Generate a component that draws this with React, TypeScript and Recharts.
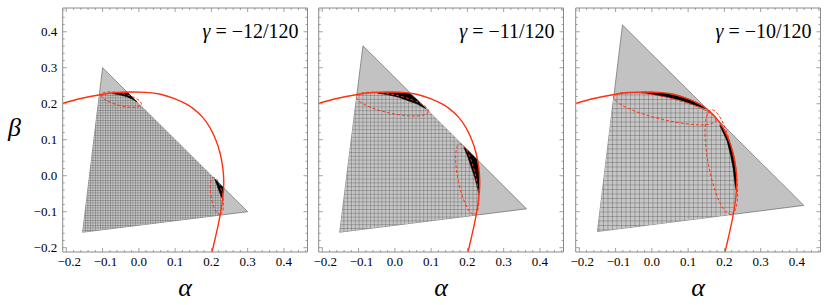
import React from 'react';
import { ComposedChart, Area, Line, XAxis, YAxis } from 'recharts';

const X_DOMAIN: [number, number] = [-0.21, 0.465];
const Y_DOMAIN: [number, number] = [-0.212, 0.466];
const tickValues = [-0.2, -0.18, -0.16, -0.14, -0.12, -0.1, -0.08, -0.06, -0.04, -0.02, 0, 0.02, 0.04, 0.06, 0.08, 0.1, 0.12, 0.14, 0.16, 0.18, 0.2, 0.22, 0.24, 0.26, 0.28, 0.3, 0.32, 0.34, 0.36, 0.38, 0.4, 0.42, 0.44, 0.46];
const majorTicks = [-0.2, -0.1, 0, 0.1, 0.2, 0.3, 0.4];
const majorTickLabels = ['−0.2', '−0.1', '0.0', '0.1', '0.2', '0.3', '0.4'];
const gammaLabels = ['−12/120', '−11/120', '−10/120'];

// solid red boundary curve (same in all panels)
const redCurve = [
  { x: -0.21, y: 0.201 }, { x: -0.16, y: 0.2145 }, { x: -0.107, y: 0.225 }, { x: -0.06, y: 0.231 },
  { x: -0.02, y: 0.2325 }, { x: 0.02, y: 0.2315 }, { x: 0.06, y: 0.2265 }, { x: 0.1, y: 0.2135 },
  { x: 0.13, y: 0.1995 }, { x: 0.15, y: 0.1865 }, { x: 0.175, y: 0.1635 }, { x: 0.196, y: 0.1335 },
  { x: 0.212, y: 0.1 }, { x: 0.224, y: 0.0625 }, { x: 0.231, y: 0.025 }, { x: 0.234, y: -0.01 },
  { x: 0.233, y: -0.045 }, { x: 0.229, y: -0.08 }, { x: 0.224, y: -0.11 }, { x: 0.217, y: -0.145 },
  { x: 0.208, y: -0.185 }, { x: 0.201, y: -0.215 },
];

// triangles  (x, [low, high])
const triangle1 = [{ x: -0.155, r: [-0.157, -0.157] }, { x: -0.1, r: [-0.1501, 0.3] }, { x: 0.3, r: [-0.1, -0.1] }];
const triangle2 = [{ x: -0.152, r: [-0.157, -0.157] }, { x: -0.088, r: [-0.1489, 0.361] }, { x: 0.363, r: [-0.092, -0.092] }];
const triangle3 = [{ x: -0.15, r: [-0.155, -0.155] }, { x: -0.081, r: [-0.1462, 0.419] }, { x: 0.419, r: [-0.0825, -0.0825] }];

// meshed regions
const mesh1 = [
  { x: -0.155, r: [-0.157, -0.157] }, { x: -0.109, r: [-0.1512, 0.224] }, { x: -0.08, r: [-0.1476, 0.2285] },
  { x: -0.05, r: [-0.1438, 0.2315] }, { x: -0.032, r: [-0.1416, 0.232] }, { x: 0.224, r: [-0.1095, -0.024] },
  { x: 0.229, r: [-0.08, -0.029] }, { x: 0.2335, r: [-0.0335, -0.0335] },
];
const mesh2 = [
  { x: -0.152, r: [-0.157, -0.157] }, { x: -0.105, r: [-0.1511, 0.225] }, { x: -0.06, r: [-0.1454, 0.231] },
  { x: -0.02, r: [-0.1403, 0.2325] }, { x: 0.02, r: [-0.1353, 0.2315] }, { x: 0.045, r: [-0.1321, 0.228] },
  { x: 0.224, r: [-0.1095, 0.0476] }, { x: 0.2275, r: [-0.09, 0.044] }, { x: 0.231, r: [-0.062, 0.025] },
  { x: 0.234, r: [-0.01, -0.01] },
];
const mesh3 = [
  { x: -0.15, r: [-0.155, -0.155] }, { x: -0.105, r: [-0.1493, 0.225] }, { x: -0.06, r: [-0.1435, 0.231] },
  { x: -0.02, r: [-0.1384, 0.2325] }, { x: 0.02, r: [-0.1333, 0.2315] }, { x: 0.06, r: [-0.1283, 0.2265] },
  { x: 0.1, r: [-0.1232, 0.2135] }, { x: 0.13, r: [-0.1194, 0.1995] }, { x: 0.15, r: [-0.1168, 0.1865] },
  { x: 0.175, r: [-0.1136, 0.1635] }, { x: 0.196, r: [-0.1109, 0.1335] }, { x: 0.212, r: [-0.1089, 0.1] },
  { x: 0.223, r: [-0.1075, 0.065] }, { x: 0.228, r: [-0.08, 0.042] }, { x: 0.231, r: [-0.062, 0.025] },
  { x: 0.234, r: [-0.01, -0.01] },
];

// black regions
const blackUpper1 = [
  { x: -0.075, r: [0.2285, 0.2285] }, { x: -0.05, r: [0.224, 0.2315] }, { x: -0.032, r: [0.219, 0.232] },
  { x: -0.015, r: [0.211, 0.215] }, { x: -0.005, r: [0.205, 0.205] },
];
const blackLower1 = [
  { x: 0.209, r: [-0.009, -0.009] }, { x: 0.215, r: [-0.025, -0.015] }, { x: 0.222, r: [-0.045, -0.022] },
  { x: 0.228, r: [-0.06, -0.028] }, { x: 0.232, r: [-0.066, -0.032] },
];
const blackUpper2 = [
  { x: -0.047, r: [0.229, 0.229] }, { x: -0.02, r: [0.225, 0.2315] }, { x: 0.01, r: [0.218, 0.232] },
  { x: 0.04, r: [0.207, 0.229] }, { x: 0.06, r: [0.2, 0.2124] }, { x: 0.087, r: [0.1852, 0.1852] },
];
const blackLower2 = [
  { x: 0.19, r: [0.079, 0.079] }, { x: 0.2, r: [0.055, 0.0717] }, { x: 0.21, r: [0.025, 0.0617] },
  { x: 0.22, r: [-0.005, 0.0516] }, { x: 0.2275, r: [-0.033, 0.044] }, { x: 0.232, r: [-0.05, 0.018] },
];
const blackUpper3 = [
  { x: -0.03, r: [0.2315, 0.2315] }, { x: 0.0, r: [0.2265, 0.2322] }, { x: 0.04, r: [0.2195, 0.2285] },
  { x: 0.08, r: [0.2095, 0.2195] }, { x: 0.11, r: [0.1995, 0.2095] }, { x: 0.13, r: [0.1925, 0.1995] },
  { x: 0.15, r: [0.1855, 0.1865] },
];
const blackLower3 = [
  { x: 0.187, r: [0.141, 0.141] }, { x: 0.196, r: [0.1205, 0.1335] }, { x: 0.207, r: [0.097, 0.111] },
  { x: 0.212, r: [0.077, 0.1] }, { x: 0.217, r: [0.057, 0.085] }, { x: 0.224, r: [0.02, 0.0625] },
  { x: 0.228, r: [-0.015, 0.042] }, { x: 0.231, r: [-0.035, 0.025] }, { x: 0.233, r: [-0.042, 0.005] },
];

// dashed ellipses
const ellipseUpper1 = [
  { x: 0.0075, y: 0.198 }, { x: 0.002, y: 0.208 }, { x: -0.017, y: 0.219 }, { x: -0.044, y: 0.228 },
  { x: -0.072, y: 0.2326 }, { x: -0.094, y: 0.2315 }, { x: -0.1035, y: 0.225 }, { x: -0.098, y: 0.215 },
  { x: -0.079, y: 0.204 }, { x: -0.052, y: 0.195 }, { x: -0.024, y: 0.1904 }, { x: -0.002, y: 0.1915 },
  { x: 0.0075, y: 0.198 },
];
const ellipseLower1 = [
  { x: 0.224, y: -0.108 }, { x: 0.2307, y: -0.0997 }, { x: 0.2332, y: -0.0799 }, { x: 0.2308, y: -0.0537 },
  { x: 0.2242, y: -0.0283 }, { x: 0.2151, y: -0.0105 }, { x: 0.206, y: -0.005 }, { x: 0.1993, y: -0.0133 },
  { x: 0.1968, y: -0.0331 }, { x: 0.1992, y: -0.0593 }, { x: 0.2058, y: -0.0847 }, { x: 0.2149, y: -0.1025 },
  { x: 0.224, y: -0.108 },
];
const ellipseUpper2 = [
  { x: 0.094, y: 0.178 }, { x: 0.083, y: 0.1936 }, { x: 0.0486, y: 0.2106 }, { x: -0.0007, y: 0.2245 },
  { x: -0.0514, y: 0.2316 }, { x: -0.09, y: 0.23 }, { x: -0.106, y: 0.22 }, { x: -0.0953, y: 0.2045 },
  { x: -0.0606, y: 0.1874 }, { x: -0.0113, y: 0.1735 }, { x: 0.0394, y: 0.1664 }, { x: 0.078, y: 0.168 },
  { x: 0.094, y: 0.178 },
];
const ellipseLower2 = [
  { x: 0.22, y: -0.1091 }, { x: 0.2293, y: -0.0934 }, { x: 0.2307, y: -0.0554 }, { x: 0.2236, y: -0.0054 },
  { x: 0.2101, y: 0.0434 }, { x: 0.1937, y: 0.0776 }, { x: 0.1788, y: 0.0883 }, { x: 0.1695, y: 0.0726 },
  { x: 0.1681, y: 0.0346 }, { x: 0.1752, y: -0.0155 }, { x: 0.1887, y: -0.0642 }, { x: 0.2051, y: -0.0984 },
  { x: 0.22, y: -0.1091 },
];
const ellipseUpper3 = [
  { x: 0.178, y: 0.153 }, { x: 0.1626, y: 0.1726 }, { x: 0.1135, y: 0.1959 }, { x: 0.0436, y: 0.2167 },
  { x: -0.0281, y: 0.2295 }, { x: -0.0824, y: 0.2306 }, { x: -0.105, y: 0.22 }, { x: -0.0896, y: 0.2004 },
  { x: -0.0405, y: 0.1771 }, { x: 0.0294, y: 0.1563 }, { x: 0.1011, y: 0.1435 }, { x: 0.1554, y: 0.1424 },
  { x: 0.178, y: 0.153 },
];
const ellipseLower3 = [
  { x: 0.219, y: -0.109 }, { x: 0.233, y: -0.0861 }, { x: 0.236, y: -0.0302 }, { x: 0.2269, y: 0.0437 },
  { x: 0.2085, y: 0.1158 }, { x: 0.1854, y: 0.1667 }, { x: 0.164, y: 0.183 }, { x: 0.15, y: 0.1601 },
  { x: 0.147, y: 0.1042 }, { x: 0.1561, y: 0.0303 }, { x: 0.1746, y: -0.0418 }, { x: 0.1976, y: -0.0927 },
  { x: 0.219, y: -0.109 },
];

const panels = [
  { triangle: triangle1, mesh: mesh1, blacks: [blackUpper1, blackLower1], ellipses: [ellipseUpper1, ellipseLower1], meshSize: 2.5 },
  { triangle: triangle2, mesh: mesh2, blacks: [blackUpper2, blackLower2], ellipses: [ellipseUpper2, ellipseLower2], meshSize: 3.8 },
  { triangle: triangle3, mesh: mesh3, blacks: [blackUpper3, blackLower3], ellipses: [ellipseUpper3, ellipseLower3], meshSize: 4.5 },
];

const PANEL_LEFT = [0, 256.3, 513.3];
const CHART_W = 320;
const CHART_H = 305;
const MARGIN = { top: 7, right: 11.5, bottom: 7, left: 22.7 };
const FRAME = '#8a8a8a';
const RED = '#ff3010';
const FONT = 'Liberation Serif, Times New Roman, Times, serif';
const textStyle = (size: number, italic = false): React.CSSProperties => ({
  fontFamily: FONT,
  fontSize: size,
  fontStyle: italic ? 'italic' : 'normal',
});

const majorIndex = (v: number) => majorTicks.findIndex((m) => Math.abs(m - v) < 1e-9);

const bottomTick = (props: any) => {
  const { x, y, payload } = props;
  const i = majorIndex(payload.value);
  const len = i >= 0 ? 4 : 2;
  return (
    <g>
      <line x1={x} x2={x} y1={y} y2={y - len} stroke={FRAME} strokeWidth={0.8} />
      {i >= 0 && (
        <text x={x + (payload.value < 0 ? 3 : 0)} y={y + 14} textAnchor="middle" style={textStyle(13)} fill="#000">
          {majorTickLabels[i]}
        </text>
      )}
    </g>
  );
};
const topTick = (props: any) => {
  const { x, y, payload } = props;
  const len = majorIndex(payload.value) >= 0 ? 4 : 2;
  return <line x1={x} x2={x} y1={y} y2={y + len} stroke={FRAME} strokeWidth={0.8} />;
};
const makeLeftTick = (showLabel: boolean) => (props: any) => {
  const { x, y, payload } = props;
  const i = majorIndex(payload.value);
  const len = i >= 0 ? 4 : 2;
  return (
    <g>
      <line x1={x} x2={x + len} y1={y} y2={y} stroke={FRAME} strokeWidth={0.8} />
      {showLabel && i >= 0 && (
        <text x={x - 5.5} y={y + 4.5} textAnchor="end" style={textStyle(13)} fill="#000">
          {majorTickLabels[i]}
        </text>
      )}
    </g>
  );
};
const rightTick = (props: any) => {
  const { x, y, payload } = props;
  const len = majorIndex(payload.value) >= 0 ? 4 : 2;
  return <line x1={x} x2={x - len} y1={y} y2={y} stroke={FRAME} strokeWidth={0.8} />;
};

function Panel({ index }: { index: number }) {
  const p = panels[index];
  const s = p.meshSize;
  const pid = `mesh${index}`;
  const plotLeft = MARGIN.left + 40;
  const plotW = CHART_W - MARGIN.left - MARGIN.right - 41;
  const plotTop = MARGIN.top + 1;
  return (
    <div style={{ position: 'absolute', left: PANEL_LEFT[index], top: 0 }}>
      <ComposedChart width={CHART_W} height={CHART_H} margin={MARGIN}>
        <defs>
          <pattern id={pid} width={s} height={s} patternUnits="userSpaceOnUse">
            <rect x={0} y={0} width={s} height={s} fill="#c6c6c6" />
            <path d={`M ${s} 0 L 0 0 L 0 ${s}`} stroke="#3c3c3c" strokeWidth={0.6} fill="none" />
          </pattern>
        </defs>
        <XAxis dataKey="x" type="number" domain={X_DOMAIN} allowDataOverflow ticks={tickValues} interval={0}
          tickSize={0} tickMargin={0} height={46} axisLine={{ stroke: FRAME }} tickLine={false} tick={bottomTick} />
        <XAxis xAxisId="t" orientation="top" dataKey="x" type="number" domain={X_DOMAIN} allowDataOverflow ticks={tickValues}
          interval={0} tickSize={0} tickMargin={0} height={1} axisLine={{ stroke: FRAME }} tickLine={false} tick={topTick} />
        <YAxis type="number" domain={Y_DOMAIN} allowDataOverflow ticks={tickValues} interval={0} tickSize={0} tickMargin={0}
          width={40} axisLine={{ stroke: FRAME }} tickLine={false} tick={makeLeftTick(index === 0)} />
        <YAxis yAxisId="r" orientation="right" type="number" domain={Y_DOMAIN} allowDataOverflow ticks={tickValues} interval={0}
          tickSize={0} tickMargin={0} width={1} axisLine={{ stroke: FRAME }} tickLine={false} tick={rightTick} />
        <Area data={p.triangle} dataKey="r" type="linear" fill="#c2c2c2" fillOpacity={1} stroke="#6a6a6a" strokeWidth={0.7}
          isAnimationActive={false} dot={false} activeDot={false} />
        <Area data={p.mesh} dataKey="r" type="linear" fill={`url(#${pid})`} fillOpacity={1} stroke="none"
          isAnimationActive={false} dot={false} activeDot={false} />
        {p.blacks.map((b, k) => (
          <Area key={`b${k}`} data={b} dataKey="r" type="linear" fill="#000" fillOpacity={1} stroke="#000" strokeWidth={0.5}
            isAnimationActive={false} dot={false} activeDot={false} />
        ))}
        {p.ellipses.map((e, k) => (
          <Line key={`e${k}`} data={e} dataKey="y" type="natural" stroke={RED} strokeWidth={1} strokeDasharray="3 2"
            dot={false} activeDot={false} isAnimationActive={false} />
        ))}
        <Line data={redCurve} dataKey="y" type="natural" stroke={RED} strokeWidth={1.4} dot={false} activeDot={false}
          isAnimationActive={false} />
        <text x={plotLeft + plotW - 9} y={plotTop + 30} textAnchor="end" style={textStyle(20)} fill="#000">
          <tspan style={{ fontStyle: 'italic' }}>γ</tspan> = {gammaLabels[index]}
        </text>
        <text x={plotLeft + plotW / 2} y={296} textAnchor="middle" style={textStyle(26, true)} fill="#000">
          α
        </text>
        {index === 0 && (
          <text x={14.5} y={136} textAnchor="middle" style={textStyle(26, true)} fill="#000">
            β
          </text>
        )}
      </ComposedChart>
    </div>
  );
}

export default function App() {
  return (
    <div style={{ position: 'absolute', left: 0, top: 0, width: 831, height: 305, overflow: 'hidden', background: '#fff' }}>
      {[0, 1, 2].map((i) => (
        <Panel key={i} index={i} />
      ))}
    </div>
  );
}
